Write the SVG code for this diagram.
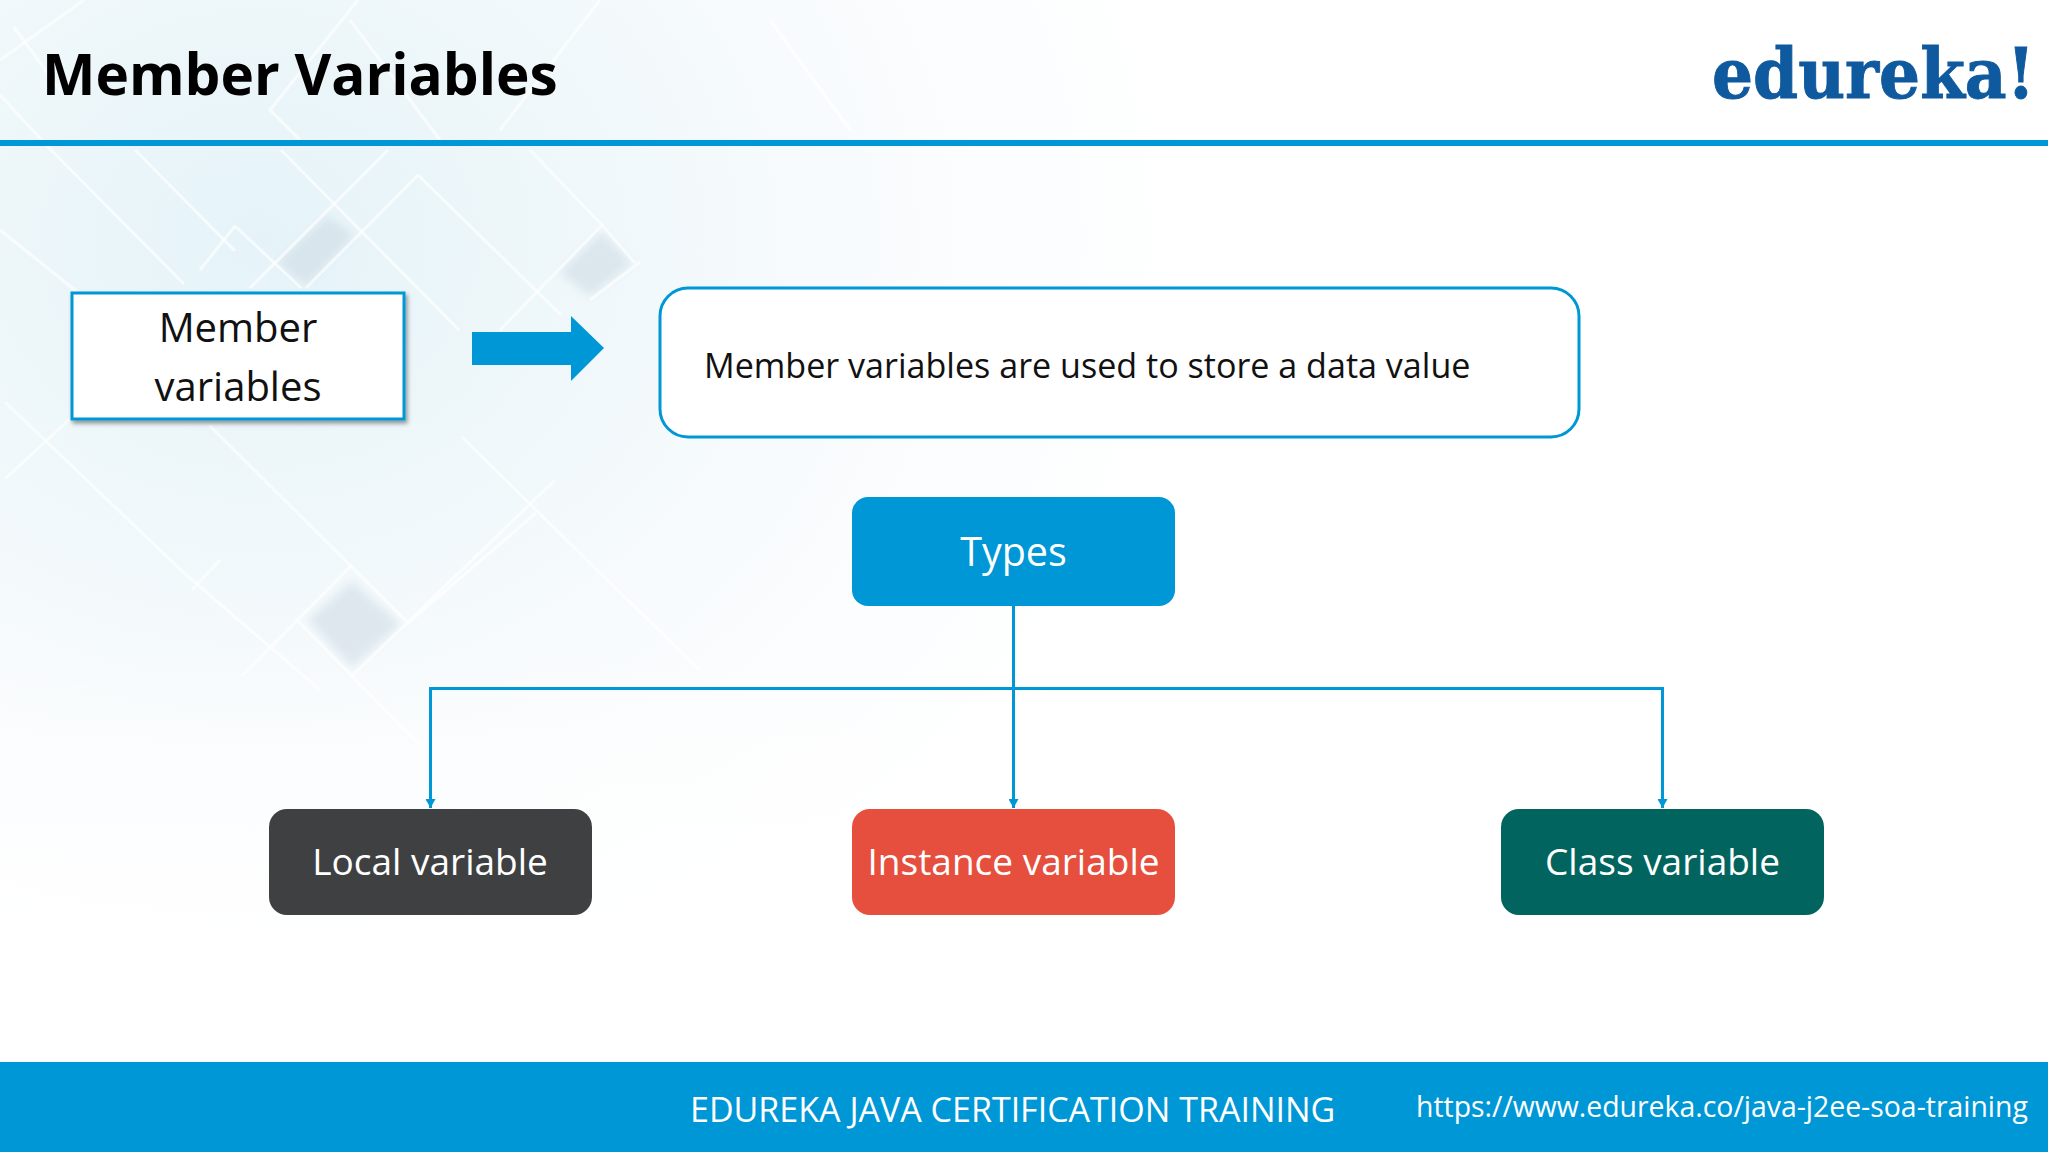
<svg xmlns="http://www.w3.org/2000/svg" width="2048" height="1152" viewBox="0 0 2048 1152">
<defs>
<radialGradient id="bg" gradientUnits="userSpaceOnUse" cx="260" cy="240" r="950" gradientTransform="translate(260 240) scale(1 0.85) translate(-260 -240)">
<stop offset="0" stop-color="#e5f3f8"/><stop offset="0.3" stop-color="#eef7fa"/><stop offset="0.62" stop-color="#f8fbfd"/><stop offset="1" stop-color="#ffffff"/>
</radialGradient>
<linearGradient id="fade" x1="0" y1="0" x2="0" y2="1">
<stop offset="0" stop-color="#fff" stop-opacity="0"/><stop offset="1" stop-color="#fff" stop-opacity="1"/>
</linearGradient>
<filter id="sh" x="-5%" y="-5%" width="110%" height="115%"><feDropShadow dx="2" dy="3" stdDeviation="2" flood-color="#000" flood-opacity="0.4"/></filter>
<filter id="soft" x="-30%" y="-30%" width="160%" height="160%"><feGaussianBlur stdDeviation="5"/></filter>
<filter id="thin" x="-5%" y="-5%" width="110%" height="110%"><feGaussianBlur stdDeviation="0.7"/></filter>
<marker id="ah" markerUnits="userSpaceOnUse" markerWidth="10" markerHeight="10" refX="9" refY="5" orient="auto"><path d="M0,0L9,5L0,10Z" fill="#0097d6"/></marker>
</defs>
<style>
text{font-family:"Open Sans","Noto Sans",sans-serif}
.w{fill:#fff;text-anchor:middle;font-size:37px}
.k{fill:#111}
.d{fill:none;stroke:#fff;stroke-width:3;stroke-opacity:.65}
.t{fill:#cbd9e2;fill-opacity:.55}
.c{fill:none;stroke:#0097d6;stroke-width:3}
</style>
<rect width="2048" height="1152" fill="#fff"/>
<rect id="background" width="2048" height="1152" fill="url(#bg)"/>
<g id="decor">
<g filter="url(#soft)">
<path class="t" d="M328 216L354 236L306 286L278 262Z"/>
<path class="t" d="M602 232L632 264L590 296L560 272Z"/>
<path class="t" d="M352 582L400 624L352 668L308 620Z" fill-opacity=".32"/>
</g>
<g filter="url(#thin)">
<path class="d" d="M0 95L51 150L184 284"/>
<path class="d" d="M135 150L235 251"/>
<path class="d" d="M235 226L301 288"/>
<path class="d" d="M281 150L459 330"/>
<path class="d" d="M418 175L561 315"/>
<path class="d" d="M530 150L602 225L635 263"/>
<path class="d" d="M5 402L184 573L320 690"/>
<path class="d" d="M209 425L408 623"/>
<path class="d" d="M296 619L352 676L420 745"/>
<path class="d" d="M462 437L602 575L700 670"/>
<path class="d" d="M388 150L250 288"/>
<path class="d" d="M418 175L306 288"/>
<path class="d" d="M602 225L500 330"/>
<path class="d" d="M235 226L200 270"/>
<path class="d" d="M640 262L590 300"/>
<path class="d" d="M220 560L192 590"/>
<path class="d" d="M352 565L242 676"/>
<path class="d" d="M536 513L408 623"/>
<path class="d" d="M5 479L71 418"/>
<path class="d" d="M555 480L352 676"/>
<path class="d" d="M84 0L0 60"/>
<path class="d" d="M14 27L60 90"/>
<path class="d" d="M358 0L270 110L300 140"/>
<path class="d" d="M600 0L500 130"/>
<path class="d" d="M440 140L350 20"/>
<path class="d" d="M850 130L770 20"/>
<path class="d" d="M0 230L100 310"/>
</g>
<rect x="0" y="640" width="1100" height="360" fill="url(#fade)"/>
</g>
<g id="header">
<text x="42" y="95" font-size="56.7" font-weight="700" fill="#000">Member Variables</text>
<rect x="0" y="140" width="2048" height="6" fill="#0097d6"/>
<text id="logo" transform="translate(1712 98) scale(.922 1)" x="0" y="0" style="font-family:'DejaVu Serif',serif" font-size="70" font-weight="700" fill="#0f5a9e" stroke="#0f5a9e" stroke-width="1">edureka!</text>
</g>
<g id="connectors">
<path class="c" d="M1013.5 606V808" marker-end="url(#ah)"/>
<path class="c" d="M430.5 808V688.5H1662.5V808" marker-end="url(#ah)"/>
<path class="c" d="M430.5 688.5V808" marker-end="url(#ah)"/>
<path id="big-arrow" d="M472 332H571V316L604 348L571 381V365H472Z" fill="#0097d6"/>
</g>
<g id="node-member">
<rect x="72" y="293" width="332" height="126" fill="#fff" stroke="#0097d6" stroke-width="3" filter="url(#sh)"/>
<text class="k" x="238" y="342" font-size="40" text-anchor="middle">Member</text>
<text class="k" x="238" y="401" font-size="40" text-anchor="middle">variables</text>
</g>
<g id="node-desc">
<rect x="660" y="288" width="919" height="149" rx="28" fill="#fff" stroke="#0097d6" stroke-width="3"/>
<text class="k" x="704" y="378" font-size="34.1">Member variables are used to store a data value</text>
</g>
<g id="node-types">
<rect x="852" y="497" width="323" height="109" rx="16" fill="#0097d6"/>
<text class="w" x="1013.5" y="566" style="font-size:39.5px">Types</text>
</g>
<g id="node-local">
<rect x="269" y="809" width="323" height="106" rx="18" fill="#3f4042"/>
<text class="w" x="430" y="875">Local variable</text>
</g>
<g id="node-instance">
<rect x="852" y="809" width="323" height="106" rx="18" fill="#e64f3e"/>
<text class="w" x="1013.5" y="875">Instance variable</text>
</g>
<g id="node-class">
<rect x="1501" y="809" width="323" height="106" rx="18" fill="#02645f"/>
<text class="w" x="1662.5" y="875">Class variable</text>
</g>
<g id="footer">
<rect x="0" y="1062" width="2048" height="90" fill="#0097d6"/>
<text x="690" y="1122" font-size="34" fill="#fff">EDUREKA JAVA CERTIFICATION TRAINING</text>
<text x="1416" y="1117" font-size="28.4" fill="#fff">https://www.edureka.co/java-j2ee-soa-training</text>
</g>
</svg>
